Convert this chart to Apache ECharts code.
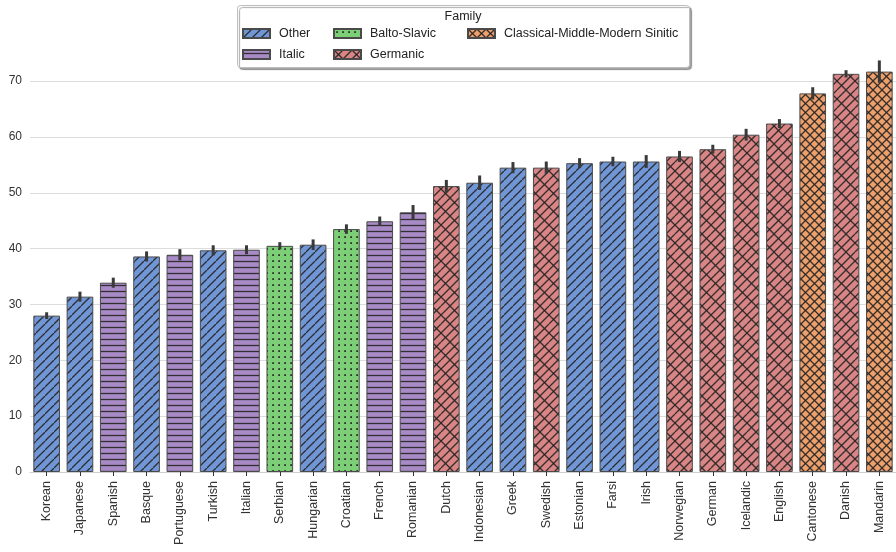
<!DOCTYPE html>
<html>
<head>
<meta charset="utf-8">
<script src="https://cdn.jsdelivr.net/npm/echarts@6/dist/echarts.min.js"></script>
<style>
  html, body { margin: 0; padding: 0; background: #fff; }
  #chart { width: 896px; height: 552px; }
</style>
</head>
<body>
<div id="chart"></div>
<script>
// Mean score per language, with the half-width of its error bar
const languages = ['Korean','Japanese','Spanish','Basque','Portuguese','Turkish','Italian','Serbian','Hungarian','Croatian','French','Romanian','Dutch','Indonesian','Greek','Swedish','Estonian','Farsi','Irish','Norwegian','German','Icelandic','English','Cantonese','Danish','Mandarin'];
const families = ['Other','Other','Italic','Other','Italic','Other','Italic','Balto-Slavic','Other','Balto-Slavic','Italic','Italic','Germanic','Other','Other','Germanic','Other','Other','Other','Germanic','Germanic','Germanic','Germanic','Classical-Middle-Modern Sinitic','Germanic','Classical-Middle-Modern Sinitic'];
const means = [28.0,31.4,33.9,38.6,38.9,39.7,39.8,40.5,40.7,43.5,44.9,46.5,51.2,51.8,54.5,54.5,55.3,55.6,55.6,56.5,57.8,60.4,62.4,67.8,71.3,71.7];
const errors = [0.6,0.9,0.9,0.9,1.0,0.9,0.8,0.65,0.95,0.85,0.85,1.3,1.1,1.3,1.0,1.1,0.9,0.85,1.15,1.0,0.8,1.05,0.8,1.1,0.65,2.0];
const familyOrder = ['Other','Italic','Balto-Slavic','Germanic','Classical-Middle-Modern Sinitic'];
const yTicks = [0,10,20,30,40,50,60,70];

// Hatch tiles, one per family
const HATCH = 'rgba(35,35,35,0.9)';
function tile(size, base, draw) {
  const c = document.createElement('canvas');
  c.width = size; c.height = size;
  const g = c.getContext('2d');
  g.fillStyle = base; g.fillRect(0, 0, size, size);
  g.strokeStyle = HATCH; g.fillStyle = HATCH; g.lineWidth = 1.3;
  draw(g, size);
  return { image: c, repeat: 'repeat' };
}
function line(g, x1, y1, x2, y2) { g.beginPath(); g.moveTo(x1, y1); g.lineTo(x2, y2); g.stroke(); }
function slash(g, s, off) { // "/" lines, tileable
  line(g, -s + off, s, off, 0); line(g, off, s, s + off, 0);
}
function backslash(g, s) { // "\" lines, tileable
  line(g, 0, 0, s, s); line(g, -s, 0, 0, s); line(g, s, 0, 2 * s, s);
}
const patterns = {
  'Other': tile(9, '#7096d6', (g, s) => { slash(g, s, 0); }),
  'Italic': tile(6, '#a88ac6', (g, s) => { line(g, 0, 3.5, s, 3.5); }),
  'Balto-Slavic': tile(6, '#7ccf76', (g, s) => { g.fillRect(2.2, 2.2, 1.8, 1.8); }),
  'Germanic': tile(18, '#d98585', (g, s) => { slash(g, s, 0); slash(g, s, 9); backslash(g, s); }),
  'Classical-Middle-Modern Sinitic': tile(9, '#eea06c', (g, s) => { slash(g, s, 0); backslash(g, s); })
};

const barSeries = familyOrder.map(f => ({
  name: f,
  type: 'bar',
  stack: 'family',
  barCategoryGap: '20%',
  data: means.map((v, i) => families[i] === f ? v : null),
  itemStyle: { color: patterns[f], borderColor: '#4a4a4a', borderWidth: 1 },
  emphasis: { disabled: true },
  z: 2
}));

const errorSeries = {
  type: 'custom',
  name: 'err',
  data: means.map((m, i) => [i, m - errors[i], m + errors[i]]),
  renderItem: (params, api) => {
    const lo = api.coord([api.value(0), api.value(1)]);
    const hi = api.coord([api.value(0), api.value(2)]);
    return {
      type: 'line',
      shape: { x1: lo[0], y1: lo[1], x2: hi[0], y2: hi[1] },
      style: { stroke: '#3a3a3a', lineWidth: 3 }
    };
  },
  z: 5,
  silent: true
};

const legendBase = {
  orient: 'vertical',
  top: 22,
  z: 60,
  icon: 'rect',
  itemWidth: 27,
  itemHeight: 9,
  itemGap: 8,
  selectedMode: false,
  textStyle: { fontFamily: 'Liberation Sans, Arial, sans-serif', fontSize: 12.5, color: '#222', padding: [0, 0, 0, 4] }
};

const chart = echarts.init(document.getElementById('chart'), null, { renderer: 'canvas' });
chart.setOption({
  animation: false,
  backgroundColor: '#fff',
  grid: { left: 30, right: 0, top: 42, bottom: 80, containLabel: false },
  xAxis: {
    type: 'category',
    data: languages,
    axisLine: { show: true, lineStyle: { color: '#cfcfcf', width: 1 } },
    axisTick: { show: true, alignWithLabel: true, length: 4, lineStyle: { color: '#333' } },
    axisLabel: { rotate: 90, margin: 9, fontFamily: 'Liberation Sans, Arial, sans-serif', fontSize: 12.5, color: '#333', interval: 0 }
  },
  yAxis: {
    type: 'value',
    min: yTicks[0],
    max: 77,
    interval: 10,
    axisLine: { show: false },
    axisTick: { show: false },
    axisLabel: { margin: 8, showMaxLabel: false, fontFamily: 'Liberation Sans, Arial, sans-serif', fontSize: 12, color: '#333' },
    splitLine: { show: true, showMaxLine: false, lineStyle: { color: '#dcdcdc', width: 1 } }
  },
  legend: [
    Object.assign({}, legendBase, { left: 237, data: ['Other', 'Italic'] }),
    Object.assign({}, legendBase, { left: 328, data: ['Balto-Slavic', 'Germanic'] }),
    Object.assign({}, legendBase, { left: 462, data: ['Classical-Middle-Modern Sinitic'] })
  ],
  graphic: [
    {
      type: 'rect', z: 50,
      shape: { x: 237.5, y: 5.5, width: 452, height: 62, r: 3 },
      style: { fill: '#fff', stroke: '#bdbdbd', lineWidth: 1, shadowColor: 'rgba(0,0,0,0.35)', shadowOffsetX: 2, shadowOffsetY: 2, shadowBlur: 1 }
    },
    {
      type: 'text', z: 51,
      style: { x: 463, y: 10, text: 'Family', textAlign: 'center', fontFamily: 'Liberation Sans, Arial, sans-serif', fontSize: 12.5, fill: '#222' }
    }
  ],
  series: barSeries.concat([errorSeries])
});
</script>
</body>
</html>
